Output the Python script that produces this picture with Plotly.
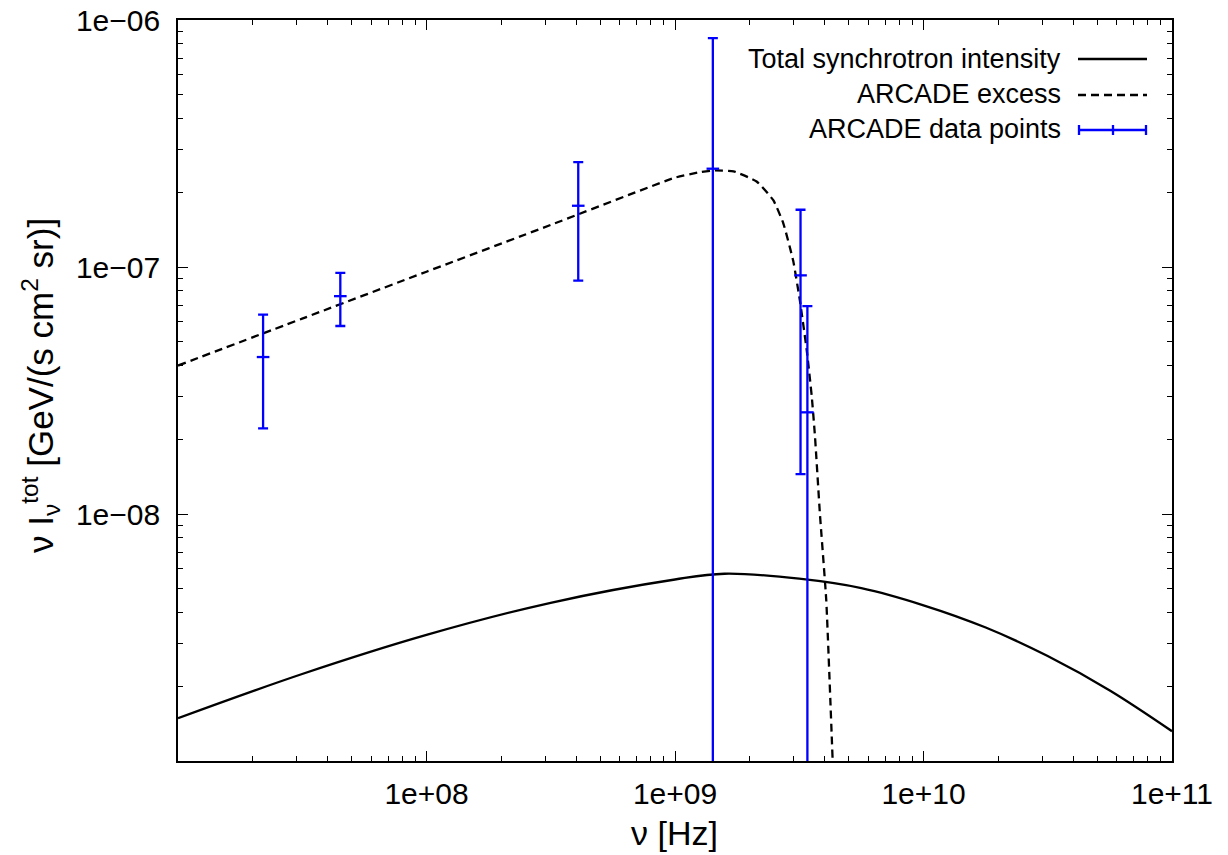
import plotly.graph_objects as go

# ---- data ----
# Total synchrotron intensity (solid curve)
sync_freq = [1.0e7, 3.16e7, 1.0e8, 3.16e8, 1.0e9, 1.58e9, 3.16e9, 5.62e9, 1.0e10, 1.78e10, 3.16e10, 5.62e10, 1.0e11]
sync_val = [1.49e-9, 2.25e-9, 3.24e-9, 4.37e-9, 5.43e-9, 5.73e-9, 5.47e-9, 5.01e-9, 4.27e-9, 3.47e-9, 2.66e-9, 1.93e-9, 1.32e-9]

# ARCADE excess (dashed curve)
exc_freq = [1.0e7, 3.16e7, 1.0e8, 3.16e8, 1.0e9, 1.26e9, 1.43e9, 1.72e9, 2.13e9, 2.49e9,
            2.73e9, 2.99e9, 3.18e9, 3.39e9, 3.55e9, 3.66e9, 3.83e9, 4.06e9, 4.31e9]
exc_val = [3.99e-8, 6.18e-8, 9.57e-8, 1.48e-7, 2.30e-7, 2.42e-7, 2.46e-7, 2.44e-7, 2.22e-7, 1.86e-7,
           1.50e-7, 1.06e-7, 7.33e-8, 4.6e-8, 3.0e-8, 2.05e-8, 1.0e-8, 4.5e-9, 1.0e-9]

# ARCADE data points
pt_freq = [2.2e7, 4.5e7, 4.08e8, 1.42e9, 3.20e9, 3.41e9]
pt_val = [4.32e-8, 7.62e-8, 1.77e-7, 2.50e-7, 9.25e-8, 2.58e-8]
pt_err = [2.1e-8, 1.85e-8, 8.9e-8, 5.95e-7, 7.8e-8, 4.37e-8]

x_ticks = [1e8, 1e9, 1e10, 1e11]
x_labels = ["1e+08", "1e+09", "1e+10", "1e+11"]
y_ticks = [1e-8, 1e-7, 1e-6]
y_labels = ["1e\u221208", "1e\u221207", "1e\u221206"]
legend_names = ["Total synchrotron intensity", "ARCADE excess", "ARCADE data points"]

FONT = "Liberation Sans, Arial, Helvetica, sans-serif"
FS_TICK = 30
FS_LEG = 27
FS_TITLE = 34
BLUE = "#0000ff"

fig = go.Figure()
fig.add_trace(go.Scatter(x=sync_freq, y=sync_val, mode="lines",
                         line=dict(color="black", width=2.3, shape="spline", smoothing=1.0),
                         showlegend=False))
fig.add_trace(go.Scatter(x=exc_freq, y=exc_val, mode="lines",
                         line=dict(color="black", width=2.3, dash="8px,5px", shape="spline", smoothing=0.4),
                         showlegend=False))
fig.add_trace(go.Scatter(x=pt_freq, y=pt_val, mode="markers",
                         marker=dict(symbol="line-ew", size=9, line=dict(color=BLUE, width=2.3), color=BLUE),
                         error_y=dict(type="data", array=pt_err, symmetric=True, color=BLUE, thickness=2.3, width=5),
                         showlegend=False))

minor_x = [k * 10 ** n for n in range(7, 11) for k in range(2, 10)]
minor_y = [k * 10.0 ** n for n in range(-9, -6) for k in range(2, 10)]

axis_common = dict(type="log", showline=True, linecolor="black", linewidth=1.6, mirror="ticks",
                   ticks="inside", ticklen=10, tickwidth=1.4, tickcolor="black", showgrid=False,
                   zeroline=False, automargin=False,
                   tickfont=dict(family=FONT, size=FS_TICK, color="black"))

fig.update_xaxes(range=[7, 11], tickmode="array", tickvals=x_ticks, ticktext=x_labels,
                 ticklabelstandoff=5,
                 minor=dict(tickmode="array", tickvals=minor_x, ticks="inside", ticklen=5, tickwidth=1.4, tickcolor="black"),
                 **axis_common)
fig.update_yaxes(range=[-9, -6], tickmode="array", tickvals=y_ticks, ticktext=y_labels,
                 ticklabelstandoff=10,
                 minor=dict(tickmode="array", tickvals=minor_y, ticks="inside", ticklen=5, tickwidth=1.4, tickcolor="black"),
                 **axis_common)

L, R, T, B = 178, 56, 20, 94
W, H = 1228, 855
pw, ph = W - L - R, H - T - B

def px(xp):
    return (xp - L) / pw

def py(yp):
    return (H - B - yp) / ph

annotations = [
    dict(text="ν [Hz]", x=px(674), y=py(833), xref="paper", yref="paper", showarrow=False,
         xanchor="center", yanchor="middle", font=dict(family=FONT, size=FS_TITLE, color="black")),
    dict(text="ν I<sub>ν</sub><sup>tot</sup> [GeV/(s cm<sup>2</sup> sr)]", x=px(40), y=py(386),
         xref="paper", yref="paper", showarrow=False, textangle=-90,
         xanchor="center", yanchor="middle", font=dict(family=FONT, size=35, color="black")),
]
leg_y = [59, 94, 129]
for name, yy in zip(legend_names, leg_y):
    annotations.append(dict(text=name, x=px(1063), y=py(yy), xref="paper", yref="paper", showarrow=False,
                            xanchor="right", yanchor="middle", font=dict(family=FONT, size=FS_LEG, color="black")))

shapes = [
    dict(type="line", xref="paper", yref="paper", x0=px(1078), x1=px(1147), y0=py(59), y1=py(59),
         line=dict(color="black", width=2.3)),
    dict(type="line", xref="paper", yref="paper", x0=px(1078), x1=px(1147), y0=py(95), y1=py(95),
         line=dict(color="black", width=2.3, dash="8px,5px")),
    dict(type="line", xref="paper", yref="paper", x0=px(1078), x1=px(1147), y0=py(130), y1=py(130),
         line=dict(color=BLUE, width=2.3)),
]
for xx in [1079, 1113, 1146]:
    shapes.append(dict(type="line", xref="paper", yref="paper", x0=px(xx), x1=px(xx), y0=py(125), y1=py(135),
                       line=dict(color=BLUE, width=2.3)))

fig.update_layout(width=W, height=H, margin=dict(l=L, r=R, t=T, b=B, autoexpand=False),
                  paper_bgcolor="white", plot_bgcolor="white",
                  annotations=annotations, shapes=shapes, showlegend=False,
                  font=dict(family=FONT, size=FS_LEG, color="black"))

fig.write_html("out.html")
